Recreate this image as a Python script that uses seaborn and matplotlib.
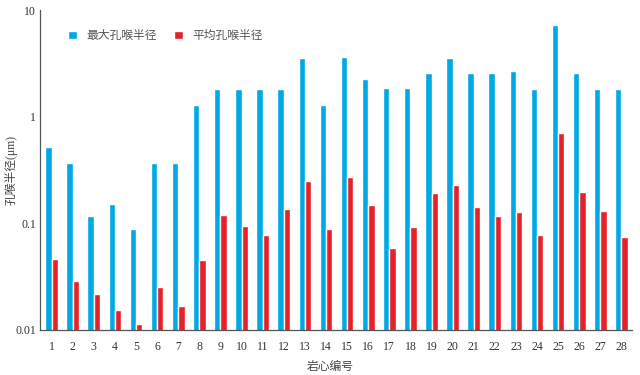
import numpy as np
import pandas as pd
import seaborn as sns
import matplotlib.pyplot as plt
from matplotlib.ticker import FixedLocator, FixedFormatter, NullLocator

# === data ===
samples = [str(i) for i in range(1, 29)]
max_radius = [0.52, 0.37, 0.117, 0.152, 0.088, 0.37, 0.37, 1.30, 1.80, 1.80,
              1.80, 1.80, 3.52, 1.30, 3.60, 2.24, 1.84, 1.84, 2.55, 3.52,
              2.55, 2.55, 2.69, 1.80, 7.20, 2.55, 1.80, 1.80]
mean_radius = [0.046, 0.0286, 0.0217, 0.0154, 0.0115, 0.0253, 0.0169, 0.0453, 0.119, 0.094,
               0.078, 0.135, 0.249, 0.088, 0.273, 0.148, 0.0587, 0.0917, 0.192, 0.227,
               0.141, 0.117, 0.129, 0.077, 0.70, 0.196, 0.131, 0.075]
series_names = ["最大孔喉半径", "平均孔喉半径"]
colors = ["#00A8E6", "#E62129"]

df = pd.DataFrame({
    "sample": samples * 2,
    "value": max_radius + mean_radius,
    "series": [series_names[0]] * 28 + [series_names[1]] * 28,
})

sns.set_style("white")
plt.rcParams["font.family"] = ["Liberation Serif", "Noto Sans CJK SC"]

fig = plt.figure(figsize=(6.4, 3.75), dpi=100)
ax = fig.add_axes([0.0625, 0.12, 0.925, 0.8533])
ax.set_yscale("log")

sns.barplot(data=df, x="sample", y="value", hue="series", palette=colors,
            width=0.6, gap=0, saturation=1, ax=ax, legend=True)

ax.set_ylim(0.01, 10)
ax.set_xlim(-0.55, 27.5)

# y ticks
ax.yaxis.set_major_locator(FixedLocator([0.01, 0.1, 1, 10]))
ax.yaxis.set_major_formatter(FixedFormatter(["0.01", "0.1", "1", "10"]))
ax.yaxis.set_minor_locator(NullLocator())
ax.tick_params(axis="y", which="major", direction="in", length=3, width=0.8,
               color="#555555", labelsize=8.5, labelcolor="#333333", pad=3)

# x ticks: labels at centers, small tick marks at category boundaries
ax.tick_params(axis="x", which="major", length=0, labelsize=8.5, labelcolor="#333333", pad=8)
ax.set_xticks(np.arange(0.5, 28, 1), minor=True)
ax.tick_params(axis="x", which="minor", direction="in", length=3, width=0.8, color="#555555")

for s in ["top", "right"]:
    ax.spines[s].set_visible(False)
for s in ["left", "bottom"]:
    ax.spines[s].set_color("#555555")
    ax.spines[s].set_linewidth(0.9)

ax.set_xlabel("岩心编号", fontsize=8.5, color="#444444")
ax.set_ylabel("孔喉半径(μm)", fontsize=8.5, color="#444444")
ax.xaxis.set_label_coords(0.49, -0.098)
ax.yaxis.set_label_coords(-0.038, 0.5)

leg = ax.legend(loc="upper left", bbox_to_anchor=(0.03, 0.97), ncol=2, frameon=False,
                handlelength=0.7, handleheight=0.7, handletextpad=0.8,
                columnspacing=1.5, fontsize=8.5)
for t in leg.get_texts():
    t.set_color("#555555")

fig.savefig("out.png", dpi=100)
